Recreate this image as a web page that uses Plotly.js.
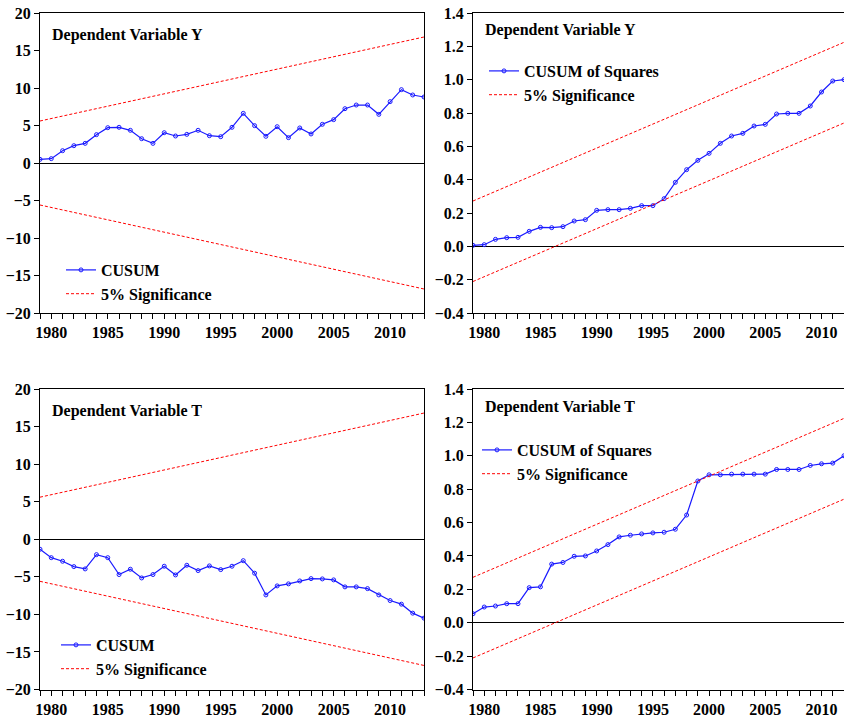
<!DOCTYPE html>
<html>
<head>
<meta charset="utf-8">
<script src="https://cdn.plot.ly/plotly-3.0.1.min.js"></script>
<style>html,body{margin:0;padding:0;background:#fff;}#chart{width:844px;height:718px;}</style>
</head>
<body>
<div id="chart"></div>
<script>
// ---- Data ----
const yearsLong = [1979,1980,1981,1982,1983,1984,1985,1986,1987,1988,1989,1990,1991,1992,1993,1994,1995,1996,1997,1998,1999,2000,2001,2002,2003,2004,2005,2006,2007,2008,2009,2010,2011,2012,2013];
const yearsShort = [1979,1980,1981,1982,1983,1984,1985,1986,1987,1988,1989,1990,1991,1992,1993,1994,1995,1996,1997,1998,1999,2000,2001,2002,2003,2004,2005,2006,2007,2008,2009,2010,2011,2012];

const cusumY = [0.49,0.58,1.64,2.31,2.62,3.78,4.71,4.76,4.36,3.24,2.62,4.04,3.60,3.82,4.36,3.64,3.51,4.76,6.62,4.98,3.56,4.84,3.38,4.67,3.87,5.16,5.78,7.24,7.73,7.73,6.49,8.18,9.78,9.07,8.80];
const cusumT = [-1.33,-2.45,-2.93,-3.64,-3.95,-2.05,-2.45,-4.70,-3.99,-5.15,-4.70,-3.59,-4.75,-3.46,-4.17,-3.55,-4.04,-3.59,-2.85,-4.52,-7.41,-6.21,-5.94,-5.55,-5.24,-5.28,-5.41,-6.34,-6.34,-6.57,-7.41,-8.16,-8.64,-9.84,-10.50];

const cusumSqY = [0.006,0.010,0.042,0.052,0.054,0.090,0.114,0.112,0.118,0.152,0.160,0.216,0.220,0.220,0.228,0.244,0.244,0.286,0.384,0.460,0.516,0.558,0.618,0.662,0.678,0.722,0.732,0.794,0.798,0.798,0.842,0.926,0.992,1.000];
const cusumSqT = [0.054,0.094,0.100,0.114,0.114,0.210,0.215,0.351,0.361,0.398,0.400,0.430,0.468,0.514,0.524,0.532,0.538,0.542,0.560,0.645,0.849,0.886,0.886,0.890,0.890,0.890,0.890,0.918,0.918,0.918,0.942,0.952,0.956,1.000];

// 5% significance bounds (endpoints of straight lines)
const sigYearsLong = [1979, 2013];
const sigYearsShort = [1979, 2012];
const cusumUpper = [5.6, 16.8];
const cusumLower = [-5.6, -16.8];
const sqUpper = [0.272, 1.224];
const sqLower = [-0.211, 0.740];

const titles = ["Dependent Variable Y", "Dependent Variable Y", "Dependent Variable T", "Dependent Variable T"];
const legendNames = ["CUSUM", "CUSUM of Squares", "5% Significance"];

// ---- Styling ----
const W = 844, H = 718;
const FONT = "Liberation Serif, Times New Roman, Times, serif";
const blue = "#1a1aff";
const red = "#ff0000";

function px(x){ return x / W; }
function py(y){ return 1 - y / H; }

const lineMain = {color: blue, width: 1.2};
const markerMain = {symbol: "circle-open", size: 4, color: blue, line: {width: 1, color: blue}};
const sigLine = {color: red, width: 1, dash: "3px,2px"};

const traces = [];
function addPanel(xa, ya, leg, years, vals, name, sYears, up, lo) {
  traces.push({x: years, y: vals, xaxis: xa, yaxis: ya, type: "scatter", mode: "lines+markers",
    name: name, line: lineMain, marker: markerMain, legend: leg});
  traces.push({x: sYears, y: up, xaxis: xa, yaxis: ya, type: "scatter", mode: "lines",
    name: legendNames[2], line: sigLine, legend: leg});
  traces.push({x: sYears, y: lo, xaxis: xa, yaxis: ya, type: "scatter", mode: "lines",
    name: legendNames[2], line: sigLine, legend: leg, showlegend: false});
}
addPanel("x", "y", "legend", yearsLong, cusumY, legendNames[0], sigYearsLong, cusumUpper, cusumLower);
addPanel("x2", "y2", "legend2", yearsShort, cusumSqY, legendNames[1], sigYearsShort, sqUpper, sqLower);
addPanel("x3", "y3", "legend3", yearsLong, cusumT, legendNames[0], sigYearsLong, cusumUpper, cusumLower);
addPanel("x4", "y4", "legend4", yearsShort, cusumSqT, legendNames[1], sigYearsShort, sqUpper, sqLower);

const tickFont = {family: FONT, size: 16, color: "#000", weight: "bold"};
function xAxis(domain, range, anchor) {
  return {domain: domain, range: range, anchor: anchor, showgrid: false, zeroline: false,
    showline: true, mirror: true, linecolor: "#000", linewidth: 1,
    ticks: "outside", ticklen: 5, tickcolor: "#000", tickwidth: 1,
    tick0: 1980, dtick: 5, tickfont: tickFont,
    minor: {dtick: 1, tick0: 1980, ticks: "outside", ticklen: 5, tickcolor: "#000", tickwidth: 1, showgrid: false}};
}
function yAxis(domain, range, dtick, anchor, fmt) {
  return {domain: domain, range: range, anchor: anchor, showgrid: false,
    zeroline: true, zerolinecolor: "#000", zerolinewidth: 1,
    showline: true, mirror: true, linecolor: "#000", linewidth: 1,
    ticks: "outside", ticklen: 5, tickcolor: "#000", tickwidth: 1,
    dtick: dtick, tickformat: fmt, tickfont: tickFont};
}

const xL = [px(40), px(424)];
const xR = [px(473), 1.0];
const yTop = [py(313), py(13)];
const yBot = [py(689.5), py(389)];

function legendAt(x, y) {
  return {x: px(x), y: py(y), xanchor: "left", yanchor: "top", bgcolor: "rgba(0,0,0,0)",
    borderwidth: 0, font: {family: FONT, size: 16, color: "#000", weight: "bold"},
    tracegroupgap: 0, itemwidth: 30};
}

function ann(text, x, y) {
  return {text: text, x: px(x), y: py(y), xref: "paper", yref: "paper", xanchor: "left", yanchor: "middle",
    showarrow: false, font: {family: FONT, size: 16, color: "#000", weight: "bold"}};
}

const layout = {
  width: W, height: H, margin: {l: 0, r: 0, t: 0, b: 0},
  paper_bgcolor: "#fff", plot_bgcolor: "#fff", showlegend: true,
  xaxis: xAxis(xL, [1979, 2013], "y"),
  yaxis: yAxis(yTop, [-20, 20], 5, "x", "d"),
  xaxis2: xAxis(xR, [1979, 2012], "y2"),
  yaxis2: yAxis(yTop, [-0.4, 1.4], 0.2, "x2", ".1f"),
  xaxis3: xAxis(xL, [1979, 2013], "y3"),
  yaxis3: yAxis(yBot, [-20, 20], 5, "x3", "d"),
  xaxis4: xAxis(xR, [1979, 2012], "y4"),
  yaxis4: yAxis(yBot, [-0.4, 1.4], 0.2, "x4", ".1f"),
  legend: legendAt(61, 253),
  legend2: legendAt(484, 54),
  legend3: legendAt(56, 628),
  legend4: legendAt(477, 433),
  annotations: [
    ann(titles[0], 50, 35),
    ann(titles[1], 483, 30),
    ann(titles[2], 50, 411),
    ann(titles[3], 483, 407)
  ]
};

Plotly.newPlot("chart", traces, layout, {displayModeBar: false, staticPlot: true});
</script>
</body>
</html>
